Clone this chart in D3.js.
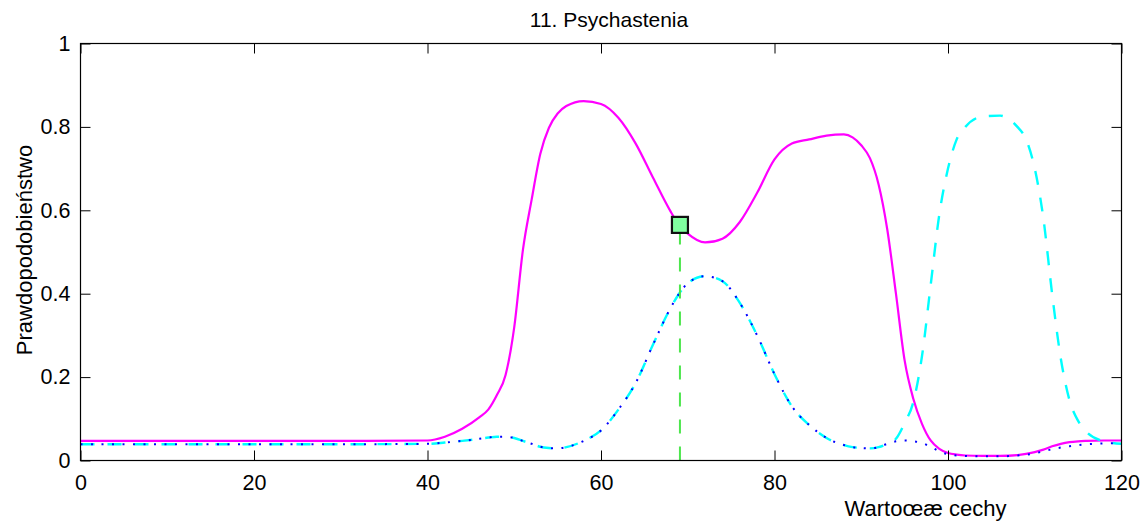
<!DOCTYPE html>
<html>
<head>
  <script src="https://d3js.org/d3.v7.min.js"></script>
  <style>
    body { margin: 0; background: #fff; }
    text { font-family: "Liberation Sans", Arial, sans-serif; fill: #000; }
  </style>
</head>
<body>
<div id="chart"></div>
<script>

// x positions shared by all three curves
var xValues = [0, 10, 20, 30, 40, 42, 44, 46, 47, 48, 49, 50, 51, 52, 53, 54, 55, 56, 58, 60,
  62, 64, 66, 68, 69, 70, 72, 74, 76, 78, 80, 82, 84, 86, 88, 89, 90, 91, 92, 93,
  94, 95, 96, 97, 98, 99, 100, 101, 102, 104, 106, 108, 109, 110, 111, 112, 113, 114, 115, 116,
  118, 120];

// magenta solid curve
var magentaValues = [0.047, 0.047, 0.047, 0.047, 0.048, 0.057, 0.076, 0.104, 0.122, 0.157, 0.205, 0.32, 0.505, 0.625, 0.735, 0.798, 0.832, 0.85, 0.862, 0.855,
  0.822, 0.76, 0.678, 0.598, 0.565, 0.544, 0.523, 0.532, 0.572, 0.642, 0.722, 0.76, 0.77, 0.779, 0.782, 0.775, 0.756, 0.725, 0.662, 0.554,
  0.40, 0.24, 0.148, 0.088, 0.048, 0.028, 0.018, 0.014, 0.012, 0.011, 0.011, 0.013, 0.016, 0.02, 0.026, 0.034, 0.04, 0.044, 0.046, 0.047,
  0.048, 0.048];

// cyan dashed curve
var cyanValues = [0.039, 0.039, 0.039, 0.039, 0.04, 0.043, 0.047, 0.052, 0.055, 0.057, 0.057, 0.054, 0.047, 0.04, 0.033, 0.03, 0.029, 0.032, 0.047, 0.072,
  0.122, 0.186, 0.278, 0.365, 0.40, 0.425, 0.442, 0.43, 0.378, 0.30, 0.207, 0.13, 0.085, 0.054, 0.037, 0.032, 0.03, 0.029, 0.032, 0.04,
  0.052, 0.09, 0.14, 0.25, 0.42, 0.59, 0.70, 0.77, 0.80, 0.825, 0.827, 0.80, 0.77, 0.70, 0.58, 0.40, 0.245, 0.145, 0.095, 0.068,
  0.046, 0.04];

// blue dotted curve
var blueValues = [0.039, 0.039, 0.039, 0.039, 0.04, 0.043, 0.047, 0.052, 0.055, 0.057, 0.057, 0.054, 0.047, 0.04, 0.033, 0.03, 0.029, 0.032, 0.047, 0.072,
  0.122, 0.186, 0.278, 0.365, 0.40, 0.425, 0.442, 0.43, 0.378, 0.30, 0.207, 0.13, 0.085, 0.054, 0.037, 0.032, 0.03, 0.029, 0.032, 0.04,
  0.046, 0.048, 0.046, 0.042, 0.033, 0.022, 0.015, 0.012, 0.011, 0.010, 0.010, 0.012, 0.014, 0.017, 0.022, 0.027, 0.031, 0.034, 0.037, 0.039,
  0.041, 0.042];

// marked point and its drop line
var markerX = 69.1;
var markerY = 0.565;

var xTicks = [0, 20, 40, 60, 80, 100, 120];
var yTicks = [0, 0.2, 0.4, 0.6, 0.8, 1];

var titleText = "11. Psychastenia";
var xLabelText = "Wartoœæ cechy";
var yLabelText = "Prawdopodobieństwo";

var margin = { top: 43.5, right: 20.5, bottom: 60.5, left: 80.5 },
    width = 1142 - margin.left - margin.right,
    height = 521 - margin.top - margin.bottom;

var svg = d3.select("#chart")
  .append("svg")
  .attr("width", 1142)
  .attr("height", 521)
  .append("g")
  .attr("transform", "translate(" + margin.left + "," + margin.top + ")");

var x = d3.scaleLinear().domain([0, 120]).range([0, width]);
var y = d3.scaleLinear().domain([0, 1]).range([height, 0]);

var magentaData = xValues.map(function (d, i) { return [d, magentaValues[i]]; });
var cyanData = xValues.map(function (d, i) { return [d, cyanValues[i]]; });
var blueData = xValues.map(function (d, i) { return [d, blueValues[i]]; });

var line = d3.line()
  .x(function (d) { return x(d[0]); })
  .y(function (d) { return y(d[1]); })
  .curve(d3.curveMonotoneX);

// curves
svg.append("path")
  .datum(magentaData)
  .attr("d", line)
  .attr("fill", "none")
  .attr("stroke", "#ff00ff")
  .attr("stroke-width", 2.2);

svg.append("path")
  .datum(cyanData)
  .attr("d", line)
  .attr("fill", "none")
  .attr("stroke", "#00ffff")
  .attr("stroke-width", 2.4)
  .attr("stroke-dasharray", "14,13");

svg.append("path")
  .datum(blueData)
  .attr("d", line)
  .attr("fill", "none")
  .attr("stroke", "#0000ff")
  .attr("stroke-width", 2)
  .attr("stroke-dasharray", "2,8.5");

// green drop line and marker
svg.append("line")
  .attr("x1", x(markerX))
  .attr("x2", x(markerX))
  .attr("y1", y(0))
  .attr("y2", y(markerY))
  .attr("stroke", "#4de64d")
  .attr("stroke-width", 2)
  .attr("stroke-dasharray", "14,13");

svg.append("rect")
  .attr("x", x(markerX) - 8)
  .attr("y", y(markerY) - 8)
  .attr("width", 16)
  .attr("height", 16)
  .attr("fill", "#80ff9f")
  .attr("stroke", "#111")
  .attr("stroke-width", 2.2);

// box
svg.append("rect")
  .attr("x", 0)
  .attr("y", 0)
  .attr("width", width)
  .attr("height", height)
  .attr("fill", "none")
  .attr("stroke", "#000")
  .attr("stroke-width", 1.2);

// axes with inward ticks
svg.append("g")
  .attr("transform", "translate(0," + height + ")")
  .call(d3.axisBottom(x).tickValues(xTicks).tickSizeInner(-10).tickSizeOuter(0).tickPadding(14).tickFormat(d3.format("d")))
  .call(function (g) {
    g.select(".domain").remove();
    g.selectAll("line").attr("stroke", "#000");
    g.selectAll("text").attr("font-size", "21.5px").attr("font-family", "Liberation Sans, Arial, sans-serif");
  });

svg.append("g")
  .call(d3.axisTop(x).tickValues(xTicks).tickSizeInner(-10).tickSizeOuter(0).tickFormat(""))
  .call(function (g) { g.select(".domain").remove(); g.selectAll("line").attr("stroke", "#000"); });

svg.append("g")
  .call(d3.axisLeft(y).tickValues(yTicks).tickSizeInner(-10).tickSizeOuter(0).tickPadding(10).tickFormat(function (d) { return d === 0 || d === 1 ? d3.format("d")(d) : d3.format(".1f")(d); }))
  .call(function (g) {
    g.select(".domain").remove();
    g.selectAll("line").attr("stroke", "#000");
    g.selectAll("text").attr("font-size", "21.5px").attr("font-family", "Liberation Sans, Arial, sans-serif");
  });

svg.append("g")
  .attr("transform", "translate(" + width + ",0)")
  .call(d3.axisRight(y).tickValues(yTicks).tickSizeInner(-10).tickSizeOuter(0).tickFormat(""))
  .call(function (g) { g.select(".domain").remove(); g.selectAll("line").attr("stroke", "#000"); });

// title and labels
svg.append("text")
  .attr("x", width / 2 + 8)
  .attr("y", -17)
  .attr("text-anchor", "middle")
  .style("font-size", "21px")
  .text(titleText);

svg.append("text")
  .attr("x", 845)
  .attr("y", height + 55)
  .attr("text-anchor", "middle")
  .style("font-size", "22px")
  .text(xLabelText);

svg.append("text")
  .attr("text-anchor", "middle")
  .attr("transform", "translate(-49," + (height / 2 - 2) + ") rotate(-90)")
  .style("font-size", "22px")
  .text(yLabelText);

</script>
</body>
</html>
